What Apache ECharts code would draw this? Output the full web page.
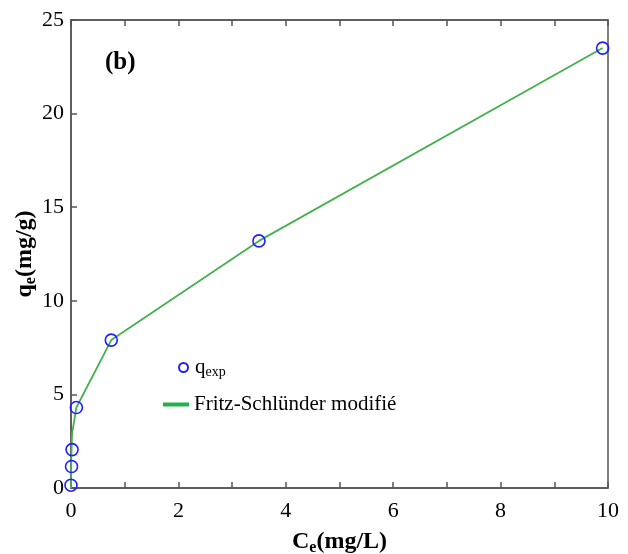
<!DOCTYPE html>
<html><head><meta charset="utf-8">
<script src="https://cdn.jsdelivr.net/npm/echarts@6/dist/echarts.min.js"></script>
<style>html,body{margin:0;padding:0;background:#fff}#c{width:628px;height:554px}</style>
</head><body><div id="c"></div>
<script>
const expX = [0, 0.01, 0.02, 0.1, 0.75, 3.5, 9.9];
const expY = [0.15, 1.15, 2.05, 4.3, 7.9, 13.2, 23.5];
const fitX = [0, 0.005, 0.02, 0.1, 0.75, 3.5, 9.9];
const fitY = [0, 1.6, 2.9, 4.3, 7.9, 13.2, 23.5];
const xTicks = [0, 2, 4, 6, 8, 10];
const yTicks = [0, 5, 10, 15, 20, 25];
const serif = '"Liberation Serif","DejaVu Serif",serif';

const chart = echarts.init(document.getElementById('c'));
chart.setOption({
  animation: false,
  backgroundColor: '#fff',
  title: {text: '(b)', left: 100, top: 45, textStyle: {fontFamily: serif, fontWeight: 'bold', fontSize: 25, color: '#000'}},
  grid: {left: 71, right: 20, top: 20, bottom: 66, show: true, borderColor: '#555', borderWidth: 1.5, containLabel: false, outerBoundsMode: 'none'},
  legend: [
    {data: ['qexp'], left: 173, top: 352, itemWidth: 9, itemHeight: 9, itemGap: 0,
     formatter: () => '{a|q}{b|exp}',
     textStyle: {padding: [0, 0, 0, 2], rich: {a: {fontFamily: serif, fontSize: 21, color: '#000'}, b: {fontFamily: serif, fontSize: 14, color: '#000', padding: [10, 0, 0, 0]}}}},
    {data: [{name: 'Fritz-Schlünder modifié', icon: 'rect'}], left: 158, top: 389, itemWidth: 26, itemHeight: 4,
     textStyle: {fontFamily: serif, fontSize: 21, color: '#000'}}
  ],
  xAxis: [{
    type: 'value', min: 0, max: 10, interval: 1,
    name: '{a|C}{b|e}{a|(mg/L)}', nameLocation: 'middle', nameGap: 40,
    nameTextStyle: {rich: {a: {fontFamily: serif, fontSize: 24, fontWeight: 'bold', color: '#000'}, b: {fontFamily: serif, fontSize: 16, fontWeight: 'bold', color: '#000', padding: [12, 0, 0, 0]}}},
    axisLine: {show: true, lineStyle: {color: '#555', width: 1.5}},
    axisTick: {show: true, inside: true, length: 6, lineStyle: {color: '#555', width: 1.5}},
    axisLabel: {margin: 12, fontFamily: serif, fontSize: 22, color: '#000', formatter: v => xTicks.includes(v) ? String(v) : ''},
    splitLine: {show: false}
  }, {
    type: 'value', position: 'top', min: 0, max: 10, interval: 1,
    axisLine: {show: true, lineStyle: {color: '#555', width: 1.5}},
    axisTick: {show: true, inside: true, length: 6, lineStyle: {color: '#555', width: 1.5}},
    axisLabel: {show: false}, splitLine: {show: false}
  }],
  yAxis: {
    type: 'value', min: 0, max: 25, interval: 5,
    name: '{a|q}{b|e}{a|(mg/g)}', nameLocation: 'middle', nameGap: 32, nameMoveOverlap: false,
    nameTextStyle: {rich: {a: {fontFamily: serif, fontSize: 24, fontWeight: 'bold', color: '#000'}, b: {fontFamily: serif, fontSize: 16, fontWeight: 'bold', color: '#000', padding: [12, 0, 0, 0]}}},
    axisLine: {show: true, lineStyle: {color: '#555', width: 1.5}},
    axisTick: {show: true, inside: true, length: 6, lineStyle: {color: '#555', width: 1.5}},
    axisLabel: {margin: 7, fontFamily: serif, fontSize: 22, color: '#000', formatter: v => yTicks.includes(v) ? String(v) : ''},
    splitLine: {show: false}
  },
  series: [
    {name: 'Fritz-Schlünder modifié', type: 'line', data: fitX.map((x, i) => [x, fitY[i]]),
     showSymbol: false, symbol: 'none', lineStyle: {color: '#47b04f', width: 1.8}, itemStyle: {color: '#22b04a'}, z: 2},
    {name: 'qexp', type: 'scatter', data: expX.map((x, i) => [x, expY[i]]),
     symbol: 'circle', symbolSize: 12,
     itemStyle: {color: 'rgba(255,255,255,0)', borderColor: '#1f1fff', borderWidth: 1.6, opacity: 1}, z: 3}
  ]
});
</script></body></html>
